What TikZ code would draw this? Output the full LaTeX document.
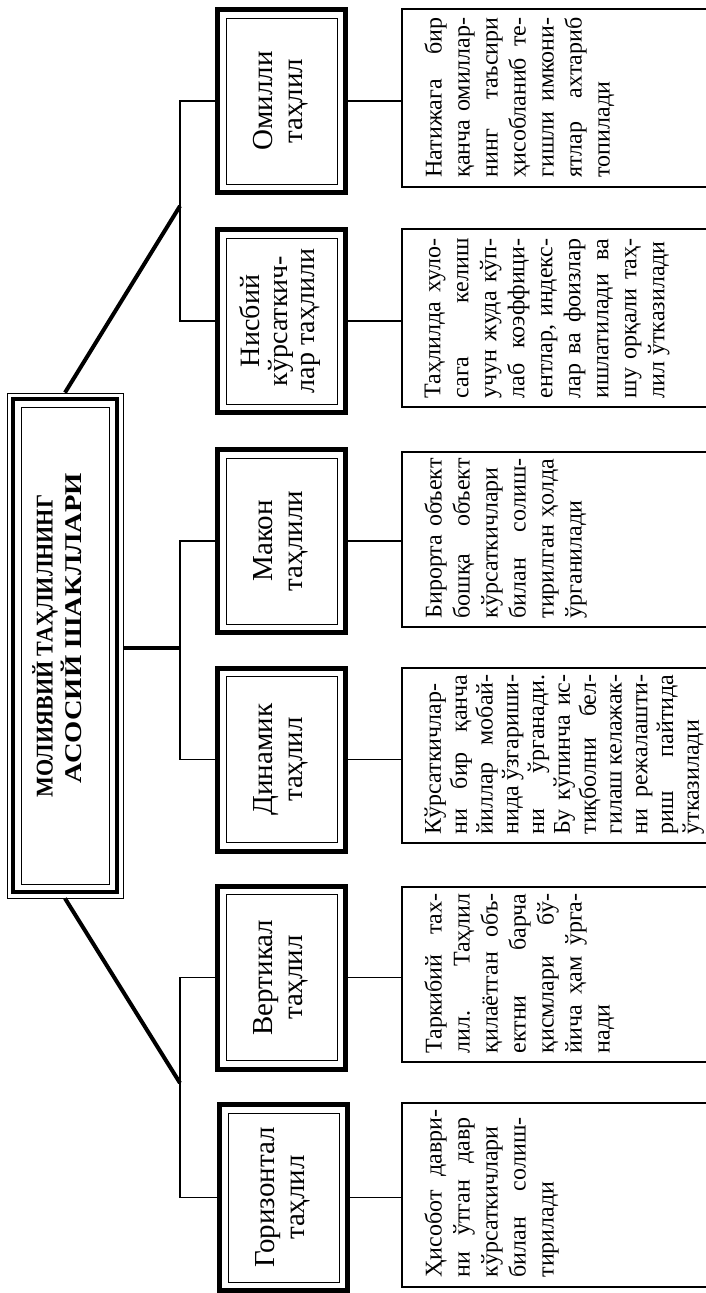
\documentclass[tikz,border=0pt]{standalone}
\usepackage{fontspec}
\setmainfont{Liberation Serif}
\newlength\tw
\setlength\tw{160pt}
\newcommand\jline[1]{\makebox[\tw][s]{#1}}
\newcommand\lline[1]{\makebox[\tw][l]{#1}}
\tikzset{
  px/.style={x=1pt,y=-1pt},
  titlebox/.style={draw, line width=0.8pt, minimum width=116pt, minimum height=505pt, inner sep=0pt,
    path picture={
      \draw[line width=4pt] ([shift={(6pt,-6pt)}]path picture bounding box.north west) rectangle ([shift={(-6pt,6pt)}]path picture bounding box.south east);
      \draw[line width=0.8pt] ([shift={(14pt,-14pt)}]path picture bounding box.north west) rectangle ([shift={(-14pt,14pt)}]path picture bounding box.south east);
    }},
  midbox/.style={draw, line width=5pt, minimum width=128pt, minimum height=183pt, inner sep=0pt,
    font=\fontsize{29}{30}\selectfont,
    path picture={
      \draw[line width=0.8pt] ([shift={(8.5pt,-8.5pt)}]path picture bounding box.north west) rectangle ([shift={(-8.5pt,8.5pt)}]path picture bounding box.south east);
    }},
  textbox/.style={draw, line width=1.3pt, minimum width=310pt, minimum height=178pt, inner sep=0pt},
  bodytext/.style={rotate=90, anchor=north west, inner sep=0pt, align=left, font=\fontsize{24}{28}\selectfont},
  thickline/.style={line width=4pt},
  thinline/.style={line width=1.8pt},
}
\begin{document}
\begin{tikzpicture}[px]
\useasboundingbox (0,0) rectangle (706,1293);

% title
\node[titlebox] (title) at (65,645.5) {};
\node[inner sep=0pt, font=\bfseries\fontsize{24}{28}\selectfont] (ttext) at (61,646)
  {\rotatebox{90}{\begin{tabular}{@{}c@{}}\scalebox{0.92}[1]{МОЛИЯВИЙ ТАҲЛИЛНИНГ}\\\hspace*{36pt}\scalebox{1.19}[1]{АСОСИЙ ШАКЛЛАРИ}\end{tabular}}};

% middle boxes
\node[midbox] (m1) at (281.5,101) {\rotatebox{90}{\begin{tabular}{@{}c@{}}Омилли\\таҳлил\end{tabular}}};
\node[midbox, font=\fontsize{28}{27.5}\selectfont] (m2) at (281.5,321) {\rotatebox{90}{\begin{tabular}{@{}c@{}}Нисбий\\кўрсаткич-\\лар таҳлили\end{tabular}}};
\node[midbox] (m3) at (281.5,541) {\rotatebox{90}{\begin{tabular}{@{}c@{}}Макон\\таҳлили\end{tabular}}};
\node[midbox] (m4) at (281.5,759.5) {\rotatebox{90}{\begin{tabular}{@{}c@{}}Динамик\\таҳлил\end{tabular}}};
\node[midbox] (m5) at (281.5,977.5) {\rotatebox{90}{\begin{tabular}{@{}c@{}}Вертикал\\таҳлил\end{tabular}}};
\node[midbox, minimum height=186pt] (m6) at (283.5,1197.5) {\rotatebox{90}{\begin{tabular}{@{}c@{}}Горизонтал\\таҳлил\end{tabular}}};

% text boxes
\node[textbox] (t1) at (557,98) {};
\node[textbox] (t2) at (557,318) {};
\node[textbox, minimum height=175pt] (t3) at (557,539.5) {};
\node[textbox, minimum height=175pt] (t4) at (557,755.5) {};
\node[textbox, minimum height=175pt] (t5) at (557,974.5) {};
\node[textbox, minimum height=184pt] (t6) at (557,1195) {};

\node[bodytext] (x1) at ([shift={(23pt,10pt)}]t1.south west) {%
\jline{Натижага бир}\\\jline{қанча омиллар-}\\\jline{нинг таъсири}\\\jline{ҳисобланиб те-}\\\jline{гишли имкони-}\\\jline{ятлар ахтариб}\\\lline{топилади}};
\node[bodytext] (x2) at ([shift={(23pt,9pt)}]t2.south west) {%
\jline{Таҳлилда хуло-}\\\jline{сага келиш}\\\jline{учун жуда кўп-}\\\jline{лаб коэффици-}\\\jline{ентлар, индекс-}\\\jline{лар ва фоизлар}\\\jline{ишлатилади ва}\\\jline{шу орқали таҳ-}\\\lline{лил ўтказилади}};
\node[bodytext] (x3) at ([shift={(23pt,9pt)}]t3.south west) {%
\jline{Бирорта объект}\\\jline{бошқа объект}\\\lline{кўрсаткичлари}\\\jline{билан солиш-}\\\jline{тирилган ҳолда}\\\lline{ўрганилади}};
\node[bodytext, font=\fontsize{24}{25.8}\selectfont] (x4) at ([shift={(23pt,9pt)}]t4.south west) {%
\lline{Кўрсаткичлар-}\\\jline{ни бир қанча}\\\jline{йиллар мобай-}\\\jline{нида ўзгариши-}\\\jline{ни ўрганади.}\\\jline{Бу кўпинча ис-}\\\jline{тиқболни бел-}\\\jline{гилаш келажак-}\\\jline{ни режалашти-}\\\jline{риш пайтида}\\\lline{ўтказилади}};
\node[bodytext] (x5) at ([shift={(23pt,9pt)}]t5.south west) {%
\jline{Таркибий тах-}\\\jline{лил. Таҳлил}\\\jline{қилаётган объ-}\\\jline{ектни барча}\\\jline{қисмлари бў-}\\\jline{йича ҳам ўрга-}\\\lline{нади}};
\node[bodytext] (x6) at ([shift={(23pt,10pt)}]t6.south west) {\setlength\tw{168pt}%
\jline{Ҳисобот даври-}\\\jline{ни ўтган давр}\\\lline{кўрсаткичлари}\\\jline{билан солиш-}\\\lline{тирилади}};

% junction points
\coordinate (jt) at (180,206);
\coordinate (jm) at (180,648);
\coordinate (jb) at (180,1083);

% connectors from title
\draw[thickline] (title.north) -- (jt);
\draw[thickline] (title.east |- jm) -- (jm);
\draw[thickline] (title.south) -- (jb);

% brackets
\draw[thinline] (m1.west) -| (jt) |- (m2.west);
\draw[thinline] (m3.west) -| (jm) |- (m4.west);
\draw[thinline] (m5.west) -| (jb) |- (m6.west);

% to text boxes
\draw[thinline] (m1.east) -- (m1.east -| t1.west);
\draw[thinline] (m2.east) -- (m2.east -| t2.west);
\draw[thinline] (m3.east) -- (m3.east -| t3.west);
\draw[thinline] (m4.east) -- (m4.east -| t4.west);
\draw[thinline] (m5.east) -- (m5.east -| t5.west);
\draw[thinline] (m6.east) -- (m6.east -| t6.west);
\end{tikzpicture}
\end{document}
